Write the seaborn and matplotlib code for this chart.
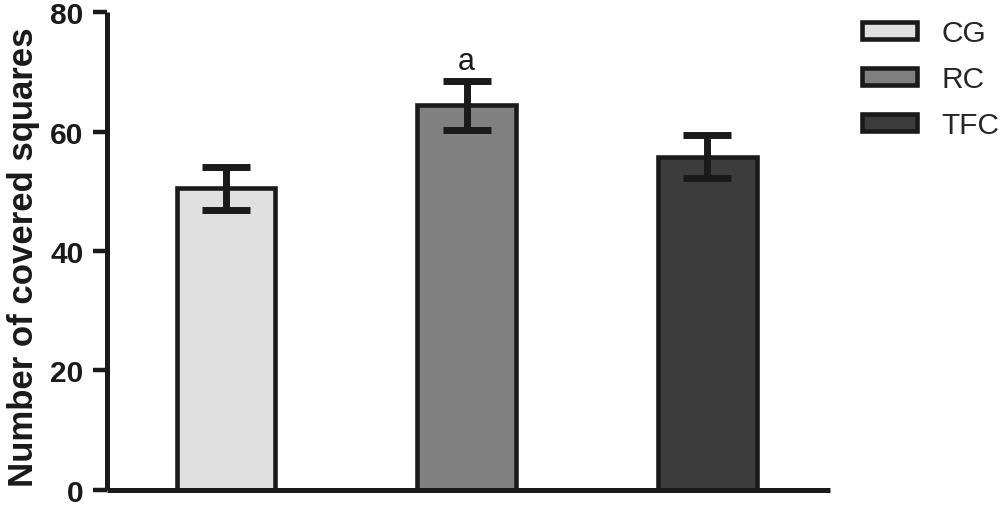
import matplotlib
matplotlib.use("Agg")
import matplotlib.pyplot as plt
import seaborn as sns
import pandas as pd
from matplotlib.patches import Patch

groups = ["CG", "RC", "TFC"]
means = [50.5, 64.4, 55.8]
errors = [3.6, 4.1, 3.65]
colors = ["#e0e0e0", "#808080", "#3c3c3c"]
y_ticks = [0, 20, 40, 60, 80]
sig_labels = ["", "a", ""]
y_label = "Number of covered squares"

sns.set_style("ticks")
plt.rcParams["font.family"] = ["Liberation Sans", "DejaVu Sans"]

df = pd.DataFrame({"group": groups, "mean": means})

fig = plt.figure(figsize=(10, 5.06), dpi=100)
ax = fig.add_axes([0.107, 0.03, 0.723, 0.944])

edge = "#1a1a1a"
sns.barplot(data=df, x="group", y="mean", hue="group", palette=colors,
            width=0.41, edgecolor=edge, linewidth=3.3, legend=False, ax=ax,
            errorbar=None, saturation=1)

ax.errorbar(range(len(groups)), means, yerr=errors, fmt="none",
            ecolor=edge, elinewidth=5, capsize=17.5, capthick=5, zorder=5)

for i, s in enumerate(sig_labels):
    if s:
        ax.text(i, means[i] + errors[i] + 1.9, s, ha="center", va="baseline",
                fontsize=22, color=edge)

ax.set_xlim(-0.495, 2.51)
ax.set_ylim(0, 80)
ax.set_yticks(y_ticks)
ax.set_yticklabels([str(t) for t in y_ticks], fontsize=21.5, fontweight="bold")
ax.set_xticks([])
ax.set_xlabel("")
ax.set_ylabel(y_label, fontsize=25, fontweight="bold", color=edge)
ax.yaxis.set_label_coords(-0.092, 0.49)

for side in ["top", "right"]:
    ax.spines[side].set_visible(False)
for side in ["left", "bottom"]:
    ax.spines[side].set_linewidth(3.6)
    ax.spines[side].set_color(edge)
    ax.spines[side].set_capstyle("butt")
ax.tick_params(axis="y", length=10, width=3.2, pad=7, color=edge, labelcolor=edge)
ax.tick_params(axis="x", length=0)

handles = [Patch(facecolor=c, edgecolor=edge, linewidth=3.3, label=g,
                 joinstyle="round")
           for g, c in zip(groups, colors)]
fig.legend(handles=handles, loc="upper left", bbox_to_anchor=(0.85, 0.984),
           frameon=False, fontsize=21.5, handlelength=1.86, handleheight=0.52,
           handletextpad=0.8, labelspacing=0.6, borderaxespad=0)

fig.savefig("out.png", dpi=100)
